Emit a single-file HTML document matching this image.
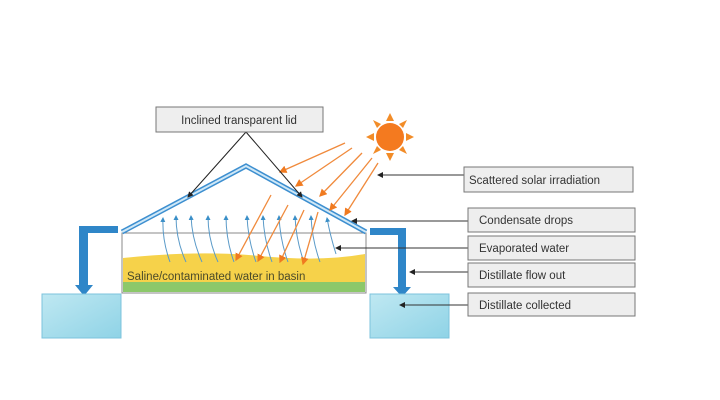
<!DOCTYPE html>
<html><head><meta charset="utf-8"><style>
body{margin:0;background:#fff;}
svg{display:block;font-family:"Liberation Sans",sans-serif;}
</style></head><body>
<svg width="720" height="400" viewBox="0 0 720 400">
<defs>
<marker id="ab" markerWidth="6" markerHeight="6" refX="5" refY="3" orient="auto"><path d="M0,0L6,3L0,6z" fill="#222"/></marker>
<marker id="ao" markerWidth="6" markerHeight="6" refX="5" refY="3" orient="auto"><path d="M0,0L6,3L0,6z" fill="#f07a20"/></marker>
<marker id="ac" markerWidth="5" markerHeight="5" refX="4" refY="2.5" orient="auto"><path d="M0,0L5,2.5L0,5z" fill="#3a8fc8"/></marker>
<linearGradient id="tank" x1="0" y1="0" x2="1" y2="1"><stop offset="0" stop-color="#bfe8f2"/><stop offset="1" stop-color="#8fd3e6"/></linearGradient>
</defs>
<!-- basin -->
<g>
<rect x="122" y="233" width="244" height="60" fill="#fff" stroke="#888" stroke-width="1"/>
<path d="M123,258 Q200,250 260,256 T365,254 L365,283 L123,283Z" fill="#f6d24a"/>
<rect x="123" y="282" width="242" height="10" fill="#8cc86a"/>
<text x="127" y="280" font-size="11.5" fill="#4a4a2a">Saline/contaminated water in basin</text>
</g>
<!-- evaporation arrows -->
<g stroke="#5a9ac8" stroke-width="1" fill="none">
<path d="M170,262 Q162,240 163,218" marker-end="url(#ac)"/>
<path d="M186,262 Q176,240 176,216" marker-end="url(#ac)"/>
<path d="M202,262 Q192,240 191,216" marker-end="url(#ac)"/>
<path d="M218,262 Q208,240 208,216" marker-end="url(#ac)"/>
<path d="M234,262 Q226,240 226,216" marker-end="url(#ac)"/>
<path d="M256,262 Q248,240 247,216" marker-end="url(#ac)"/>
<path d="M272,262 Q264,240 263,216" marker-end="url(#ac)"/>
<path d="M288,262 Q280,240 279,216" marker-end="url(#ac)"/>
<path d="M304,262 Q296,240 295,216" marker-end="url(#ac)"/>
<path d="M320,262 Q312,240 311,216" marker-end="url(#ac)"/>
<path d="M336,254 Q330,235 327,218" marker-end="url(#ac)"/>
</g>
<!-- lid -->
<path d="M122,232 L246,166 L366,232" fill="none" stroke="#3d8fd0" stroke-width="5"/>
<path d="M122,232 L246,166 L366,232" fill="none" stroke="#cfe8f7" stroke-width="2"/>
<!-- sun -->
<g fill="#f28c28">
<circle cx="390" cy="137" r="14" fill="#f47a1f"/>
<polygon points="390,113 386,121 394,121"/><polygon points="390,161 386,153 394,153"/>
<polygon points="366,137 374,133 374,141"/><polygon points="414,137 406,133 406,141"/>
<polygon points="373,120 377,128 381,124"/><polygon points="407,120 403,128 399,124"/>
<polygon points="373,154 377,146 381,150"/><polygon points="407,154 403,146 399,150"/>
</g>
<!-- sun rays -->
<g stroke="#f08a3c" stroke-width="1.3">
<line x1="345" y1="143" x2="280" y2="172" marker-end="url(#ao)"/>
<line x1="352" y1="148" x2="296" y2="186" marker-end="url(#ao)"/>
<line x1="362" y1="153" x2="320" y2="196" marker-end="url(#ao)"/>
<line x1="372" y1="158" x2="330" y2="210" marker-end="url(#ao)"/>
<line x1="378" y1="163" x2="345" y2="215" marker-end="url(#ao)"/>
<line x1="271" y1="195" x2="236" y2="260" marker-end="url(#ao)"/>
<line x1="288" y1="205" x2="258" y2="261" marker-end="url(#ao)"/>
<line x1="304" y1="210" x2="280" y2="262" marker-end="url(#ao)"/>
<line x1="318" y1="212" x2="303" y2="264" marker-end="url(#ao)"/>
</g>
<!-- pipes -->
<g fill="#2f86c8">
<path d="M79,226 L118,226 L118,233 L88,233 L88,285 L93,285 L84,296 L75,285 L79,285Z"/>
<path d="M370,228 L406,228 L406,287 L411,287 L402,297 L393,287 L398,287 L398,235 L370,235Z"/>
</g>
<rect x="42" y="294" width="79" height="44" fill="url(#tank)" stroke="#7cc3dc"/>
<rect x="370" y="294" width="79" height="44" fill="url(#tank)" stroke="#7cc3dc"/>
<!-- lid callout -->
<g>
<line x1="246" y1="132" x2="188" y2="197" stroke="#222" marker-end="url(#ab)"/>
<line x1="246" y1="132" x2="302" y2="197" stroke="#222" marker-end="url(#ab)"/>
<rect x="156" y="107" width="167" height="25" fill="#eeeeee" stroke="#777"/>
<text x="239" y="124" font-size="11.5" fill="#333" text-anchor="middle">Inclined transparent lid</text>
</g>
<!-- right labels -->
<g stroke="#333" stroke-width="1">
<line x1="464" y1="175" x2="378" y2="175" marker-end="url(#ab)"/>
<line x1="468" y1="221" x2="352" y2="221" marker-end="url(#ab)"/>
<line x1="468" y1="248" x2="336" y2="248" marker-end="url(#ab)"/>
<line x1="468" y1="272" x2="410" y2="272" marker-end="url(#ab)"/>
<line x1="468" y1="305" x2="400" y2="305" marker-end="url(#ab)"/>
</g>
<g font-size="11.5" fill="#333">
<g><rect x="464" y="167" width="169" height="25" fill="#eeeeee" stroke="#777"/><text x="469" y="184">Scattered solar irradiation</text></g>
<g><rect x="468" y="208" width="167" height="24" fill="#eeeeee" stroke="#777"/><text x="479" y="224">Condensate drops</text></g>
<g><rect x="468" y="236" width="167" height="24" fill="#eeeeee" stroke="#777"/><text x="479" y="252">Evaporated water</text></g>
<g><rect x="468" y="263" width="167" height="24" fill="#eeeeee" stroke="#777"/><text x="479" y="279">Distillate flow out</text></g>
<g><rect x="468" y="293" width="167" height="23" fill="#eeeeee" stroke="#777"/><text x="479" y="309">Distillate collected</text></g>
</g>
</svg>
</body></html>
